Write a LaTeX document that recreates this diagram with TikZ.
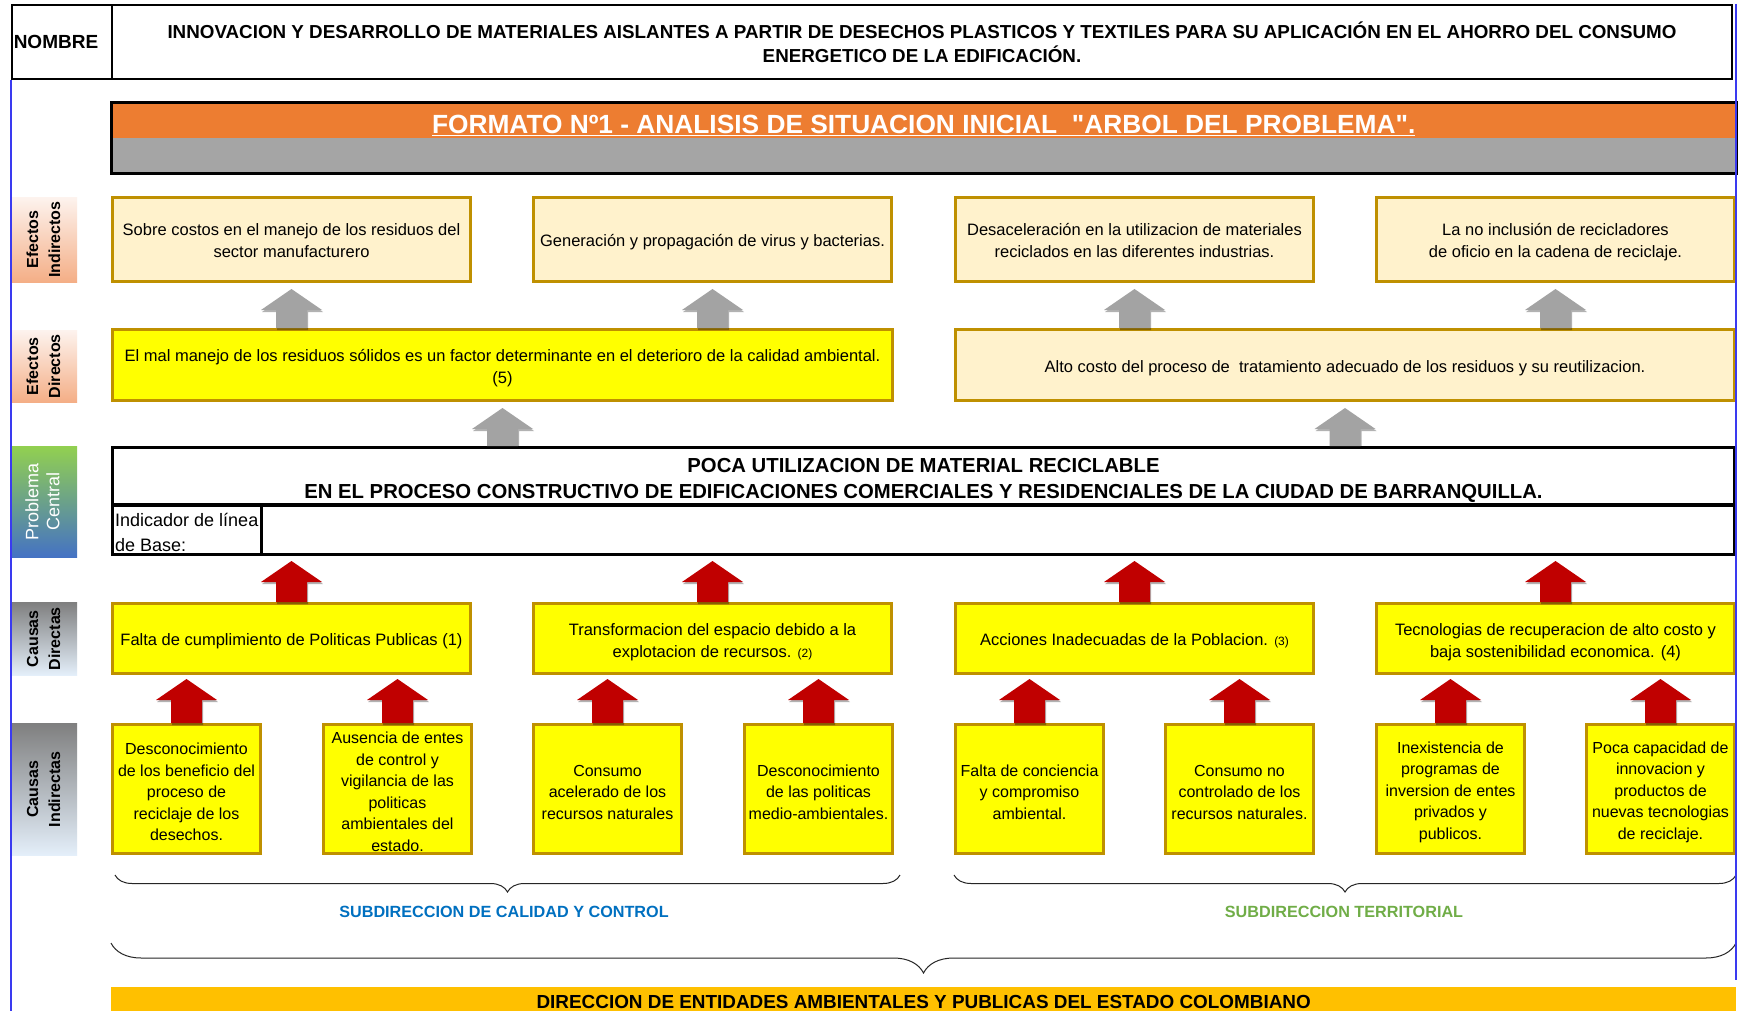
\documentclass[tikz,border=0pt]{standalone}
\usepackage{fontspec}
\setmainfont{Liberation Sans}
\usetikzlibrary{calc,decorations.pathreplacing,shadows}

\definecolor{cream}{HTML}{FFF2CC}
\definecolor{goldline}{HTML}{BF9000}
\definecolor{yel}{HTML}{FFFF00}
\definecolor{orangeH}{HTML}{ED7D31}
\definecolor{grayband}{HTML}{A5A5A5}
\definecolor{barGold}{HTML}{FFC000}
\definecolor{arrowRed}{HTML}{C00000}
\definecolor{arrowGray}{HTML}{A3A3A3}
\definecolor{frameBlue}{HTML}{3A3AF0}
\definecolor{subBlue}{HTML}{0070C0}
\definecolor{subGreen}{HTML}{70AD47}
\definecolor{salmon}{HTML}{F4AE86}
\definecolor{salmonTop}{HTML}{FDF3EE}
\definecolor{pcGreen}{HTML}{92D050}
\definecolor{pcBlue}{HTML}{4472C4}
\definecolor{cGray}{HTML}{7F7F7F}
\definecolor{cLight}{HTML}{E4EFFA}

\newcommand\fs[2]{\fontsize{#1}{#2}\selectfont}
\newcommand\sdn[1]{\rule{0pt}{#1}}
% #1 style, #2 point giving x, #3 point giving bottom y, #4 point giving tip y, #5 gap
\newcommand\blockarrow[5]{%
  \path[#1] let \p1=#2, \p2=#3, \p3=#4 in
    (\x1-15.5pt,\y2) -- (\x1-15.5pt,\y3-#5-21pt) -- (\x1-30.5pt,\y3-#5-21pt) --
    (\x1,\y3-#5) -- (\x1+30.5pt,\y3-#5-21pt) -- (\x1+15.5pt,\y3-#5-21pt) --
    (\x1+15.5pt,\y2) -- cycle;}

\tikzset{
  box/.style={draw=goldline, line width=3pt, anchor=north west, align=center,
    inner sep=1pt, font=\fs{16.5}{22}},
  effi/.style={box, fill=cream, minimum width=358, minimum height=84},
  cause/.style={box, fill=yel, minimum width=358, minimum height=70},
  icause/.style={box, fill=yel, minimum width=148, minimum height=129,
    inner sep=0pt, font=\fs{16}{21.5}},
  lbl/.style={anchor=north west, minimum width=65, inner sep=0pt,
    font=\bfseries\fs{16}{22}},
  grayarr/.style={fill=arrowGray, drop shadow={shadow xshift=1pt,
    shadow yshift=-2pt, opacity=0.3, fill=black}},
  redarr/.style={fill=arrowRed, drop shadow={shadow xshift=1pt,
    shadow yshift=-2pt, opacity=0.3, fill=black}},
  brc/.style={decorate, line width=1pt, draw=black!85},
  blk/.style={draw, line width=3pt, anchor=north west},
}

\begin{document}
\begin{tikzpicture}[x=1pt, y=-1pt]
\useasboundingbox (0,0) rectangle (1739,1011);
\fill[white] (0,0) rectangle (1739,1011);

% ---- title block
\node[draw, line width=2pt, anchor=north west, minimum width=100, minimum height=74,
  inner xsep=0pt, font=\bfseries\fs{19}{22}] (nombre) at (11,4) {NOMBRE\hspace*{12pt}};
\node[draw, line width=2pt, anchor=north west, minimum width=1620, minimum height=74,
  align=center, font=\bfseries\fs{18.8}{24}] (titulo) at (111,4)
  {INNOVACION Y DESARROLLO DE MATERIALES AISLANTES A PARTIR DE DESECHOS PLASTICOS Y TEXTILES PARA SU APLICACIÓN EN EL AHORRO DEL CONSUMO\\ENERGETICO DE LA EDIFICACIÓN.};

% ---- header
\node[anchor=north west, fill=orangeH, minimum width=1625, minimum height=35, inner sep=0pt]
  (hdr) at (111,103) {};
\node[anchor=north west, fill=grayband, minimum width=1625, minimum height=35, inner sep=0pt]
  (hdrg) at (111,138) {};
\draw[line width=3pt] (hdr.north west) rectangle (hdrg.south east);
\node[text=white, inner sep=0pt, font=\bfseries\fs{26.3}{30}] (hdrtxt) at ($(hdr.center)+(0,4.5)$)
  {\underline{FORMATO Nº1 - ANALISIS DE SITUACION INICIAL \ \textquotedbl ARBOL DEL PROBLEMA\textquotedbl.}};

% ---- left labels
\node[lbl, top color=salmonTop, bottom color=salmon, minimum height=85] (lEI) at (12,197)
  {\rotatebox{90}{\begin{tabular}{@{}c@{}}Efectos\\Indirectos\end{tabular}}};
\node[lbl, top color=salmonTop, bottom color=salmon, minimum height=72] (lED) at (12,330)
  {\rotatebox{90}{\begin{tabular}{@{}c@{}}Efectos\\Directos\end{tabular}}};
\node[lbl, top color=pcGreen, bottom color=pcBlue, minimum height=111, text=white,
  font=\fs{18}{21}] (lPC) at (12,446)
  {\rotatebox{90}{\begin{tabular}{@{}c@{}}Problema\\Central\end{tabular}}};
\node[lbl, top color=cGray, bottom color=cLight, minimum height=73] (lCD) at (12,602)
  {\rotatebox{90}{\begin{tabular}{@{}c@{}}Causas\\Directas\end{tabular}}};
\node[lbl, top color=cGray, bottom color=cLight, minimum height=132] (lCI) at (12,723)
  {\rotatebox{90}{\begin{tabular}{@{}c@{}}Causas\\Indirectas\end{tabular}}};

% ---- indirect effects
\node[effi] (ei1) at (111,196) {\sdn{14pt}Sobre costos en el manejo de los residuos del\\sector manufacturero};
\node[effi] (ei2) at (532,196) {\sdn{17pt}Generación y propagación de virus y bacterias.};
\node[effi] (ei3) at (954,196) {\sdn{14pt}Desaceleración en la utilizacion de materiales\\reciclados en las diferentes industrias.};
\node[effi] (ei4) at (1375,196) {\sdn{17pt}La no inclusión de recicladores\\de oficio en la cadena de reciclaje.};

% ---- direct effects
\node[box, fill=yel, minimum width=780, minimum height=71] (ed1) at (111,328)
  {\sdn{19pt}El mal manejo de los residuos sólidos es un factor determinante en el deterioro de la calidad ambiental.\\(5)};
\node[box, fill=cream, minimum width=779, minimum height=71] (ed2) at (954,328)
  {\sdn{18pt}Alto costo del proceso de \ tratamiento adecuado de los residuos y su reutilizacion.};

% ---- central problem
\node[blk, minimum width=1622, minimum height=57, align=center,
  font=\bfseries\fs{20.3}{25.5}] (central) at (111,446)
  {\sdn{22pt}POCA UTILIZACION DE MATERIAL RECICLABLE\\EN EL PROCESO CONSTRUCTIVO DE EDIFICACIONES COMERCIALES Y RESIDENCIALES DE LA CIUDAD DE BARRANQUILLA.};
\node[blk, minimum width=148.5, minimum height=50, align=left, inner sep=1pt,
  font=\fs{18}{25.5}] (ind) at (111,503) {\sdn{19.5pt}Indicador de línea\\de Base:};
\node[blk, minimum width=1473.5, minimum height=50] (indval) at (259.5,503) {};

% ---- direct causes
\node[cause] (cd1) at (111,602) {\sdn{16.5pt}Falta de cumplimiento de Politicas Publicas (1)};
\node[cause] (cd2) at (532,602) {\sdn{19pt}Transformacion del espacio debido a la\\explotacion de recursos. {\fs{12}{14}(2)}};
\node[cause] (cd3) at (954,602) {\sdn{16.5pt}Acciones Inadecuadas de la Poblacion. {\fs{12}{14}(3)}};
\node[cause] (cd4) at (1375,602) {\sdn{19pt}Tecnologias de recuperacion de alto costo y\\baja sostenibilidad economica. (4)};

% ---- indirect causes
\node[icause] (ci1) at (111,723) {\sdn{18pt}Desconocimiento\\de los beneficio del\\proceso de\\reciclaje de los\\desechos.};
\node[icause] (ci2) at (322,723) {\sdn{17pt}Ausencia de entes\\de control y\\vigilancia de las\\politicas\\ambientales del\\estado.};
\node[icause] (ci3) at (532,723) {\sdn{18pt}Consumo\\acelerado de los\\recursos naturales};
\node[icause] (ci4) at (743,723) {\sdn{18pt}Desconocimiento\\de las politicas\\medio-ambientales.};
\node[icause] (ci5) at (954,723) {\sdn{18pt}Falta de conciencia\\y compromiso\\ambiental.};
\node[icause] (ci6) at (1164,723) {\sdn{18pt}Consumo no\\controlado de los\\recursos naturales.};
\node[icause] (ci7) at (1375,723) {\sdn{18pt}Inexistencia de\\programas de\\inversion de entes\\privados y\\publicos.};
\node[icause] (ci8) at (1585,723) {\sdn{18pt}Poca capacidad de\\innovacion y\\productos de\\nuevas tecnologias\\de reciclaje.};

% ---- arrows
\foreach \k in {1,2,3,4}{
  \blockarrow{grayarr}{(ei\k.south)}{(ed1.north)}{(ei\k.south)}{6pt}
  \blockarrow{redarr}{(cd\k.north)}{(cd\k.north)}{(ind.south)}{5pt}
}
\foreach \k in {1,2}{
  \blockarrow{grayarr}{(ed\k.south)}{(central.north)}{(ed\k.south)}{6pt}
}
\foreach \k/\j in {1/1,2/1,3/2,4/2,5/3,6/3,7/4,8/4}{
  \blockarrow{redarr}{(ci\k.north)}{(ci\k.north)}{(cd\j.south)}{4pt}
}

% ---- braces and groups
\coordinate (b1l) at (115,875);
\coordinate (b1r) at (900,875);
\coordinate (b2l) at (954,875);
\coordinate (b2r) at (1736,875);
\coordinate (b3l) at (111,943);
\coordinate (b3r) at (1736,943);
\draw[brc, decoration={brace, amplitude=17pt, mirror}] (b1l) -- (b1r);
\draw[brc, decoration={brace, amplitude=17pt, mirror}] (b2l) -- (b2r);
\draw[brc, decoration={brace, amplitude=30pt, mirror}] (b3l) -- (b3r);
\node[font=\bfseries\fs{16.2}{18}, text=subBlue] (sub1) at (504,912) {SUBDIRECCION DE CALIDAD Y CONTROL};
\node[font=\bfseries\fs{16.2}{18}, text=subGreen] (sub2) at (1344,912) {SUBDIRECCION TERRITORIAL};

% ---- bottom bar
\node[anchor=north west, fill=barGold, minimum width=1625, minimum height=30, inner sep=0pt,
  font=\bfseries\fs{18.9}{20}] (dir) at (111,987)
  {DIRECCION DE ENTIDADES AMBIENTALES Y PUBLICAS DEL ESTADO COLOMBIANO};

% ---- blue frame lines
\draw[frameBlue, line width=2pt] (10.5,80) -- (10.5,1011);
\draw[frameBlue, line width=2pt] (1736,4) -- (1736,980);
\end{tikzpicture}
\end{document}
